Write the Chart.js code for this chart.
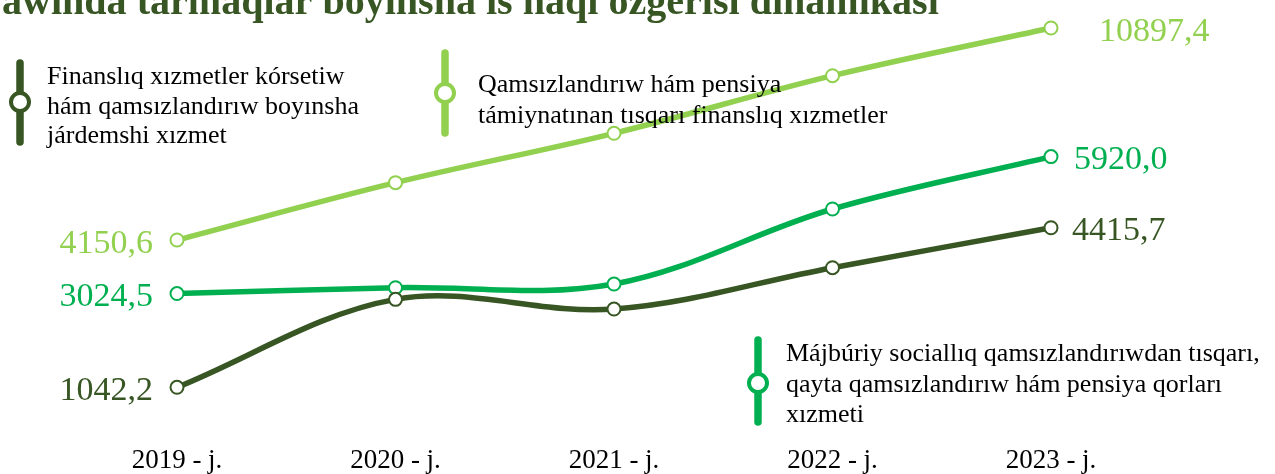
<!DOCTYPE html>
<html>
<head>
<meta charset="utf-8">
<script src="https://cdn.jsdelivr.net/npm/chart.js@4.4.0/dist/chart.umd.min.js"></script>
<style>
    html, body { margin:0; padding:0; background:#fff; }
    #wrap { width:1275px; height:474px; position:relative; }
</style>
</head>
<body>
<div id="wrap"><canvas id="lineChart"></canvas></div>
<script>
// data
var years = ['2019 - j.', '2020 - j.', '2021 - j.', '2022 - j.', '2023 - j.'];
var darkVals = [1042.2, 2902, 2697, 3571, 4415.7];
var midVals = [3024.5, 3148, 3226, 4812, 5920.0];
var lightVals = [4150.6, 5975, 7546, 9380, 10897.4];
var darkName = ['Finanslıq xızmetler kórsetiw', 'hám qamsızlandırıw boyınsha', 'járdemshi xızmet'];
var lightName = ['Qamsızlandırıw hám pensiya', 'támiynatınan tısqarı finanslıq xızmetler'];
var midName = ['Májbúriy sociallıq qamsızlandırıwdan tısqarı,', 'qayta qamsızlandırıw hám pensiya qorları', 'xızmeti'];
var titleText = 'awinda tarmaqlar boyınsha is haqı ózgerisi dinamikası';

var DARK = '#375623', MID = '#00B050', LIGHT = '#92D050';

function fmt(v) {
    return v.toFixed(1).replace('.', ',');
}

// title (cut at top) + value labels + hand placed legend
var decor = {
    id:'decor',
    afterDatasetsDraw:function(chart) {
        var ctx = chart.ctx;
        ctx.save();

        // title
        ctx.fillStyle = DARK;
        ctx.font = 'bold 32px "Liberation Serif"';
        var w = ctx.measureText(titleText).width;
        var size = 32 * 937 / w;
        ctx.font = 'bold ' + size + 'px "Liberation Serif"';
        ctx.textAlign = 'left';
        ctx.textBaseline = 'alphabetic';
        ctx.fillText(titleText, 2, 13.5);

        // first / last values
        ctx.font = '34px "Liberation Serif"';
        chart.data.datasets.forEach(function(ds, i) {
            var pts = chart.getDatasetMeta(i).data;
            var p0 = pts[0], pn = pts[pts.length - 1];
            ctx.fillStyle = ds.borderColor;
            ctx.textAlign = 'right';
            ctx.fillText(fmt(ds.data[0]), p0.x - 24, p0.y + 12.5);
            ctx.textAlign = 'left';
            ctx.fillText(fmt(ds.data[ds.data.length - 1]), pn.x + ds.endGap, pn.y + 12.5);
        });

        // legend
        var items = [
            {c:DARK, x:20, y1:63, y2:142, cy:102, tx:47, ty:84, lh:29.5, lines:darkName},
            {c:LIGHT, x:445, y1:53, y2:133, cy:93, tx:478, ty:92, lh:31, lines:lightName},
            {c:MID, x:758, y1:340, y2:422, cy:383, tx:786, ty:361, lh:30.5, lines:midName}
        ];
        items.forEach(function(it) {
            ctx.strokeStyle = it.c;
            ctx.lineCap = 'round';
            ctx.lineWidth = 7.5;
            ctx.beginPath();
            ctx.moveTo(it.x, it.y1);
            ctx.lineTo(it.x, it.y2);
            ctx.stroke();
            ctx.beginPath();
            ctx.arc(it.x, it.cy, 9, 0, Math.PI * 2);
            ctx.fillStyle = '#fff';
            ctx.fill();
            ctx.lineWidth = 4;
            ctx.stroke();
            ctx.fillStyle = '#000';
            ctx.font = '26px "Liberation Serif"';
            ctx.textAlign = 'left';
            it.lines.forEach(function(t, k) {
                ctx.fillText(t, it.tx, it.ty + k * it.lh);
            });
        });
        ctx.restore();
    }
};

function lineSet(label, data, color, axis, gap) {
    return {
        label:label,
        data:data,
        yAxisID:axis,
        borderColor:color,
        backgroundColor:color,
        borderWidth:5.5,
        tension:0.35,
        pointRadius:6.5,
        pointBorderWidth:2,
        pointBackgroundColor:'#fff',
        pointBorderColor:color,
        endGap:gap
    };
}

var chart = new Chart(document.getElementById('lineChart'), {
    type:'line',
    data:{
        labels:years,
        datasets:[
            lineSet(darkName.join(' '), darkVals, DARK, 'y', 21),
            lineSet(midName.join(' '), midVals, MID, 'y', 23),
            lineSet(lightName.join(' '), lightVals, LIGHT, 'y2', 48)
        ]
    },
    options:{
        responsive:true,
        maintainAspectRatio:false,
        animation:false,
        events:[],
        layout:{ padding:{ left:177, right:224, top:20, bottom:0 } },
        plugins:{ legend:{ display:false }, tooltip:{ enabled:false } },
        scales:{
            x:{
                offset:false,
                grid:{ display:false, drawTicks:false },
                border:{ display:false },
                ticks:{ color:'#000', padding:8, font:{ family:'Liberation Serif', size:27 } },
                afterFit:function(s) { s.height = 37.4; }
            },
            y:{ display:false, min:0, max:8808 },
            y2:{ display:false, position:'right', min:-2106, max:11152 }
        }
    },
    plugins:[decor]
});
</script>
</body>
</html>
